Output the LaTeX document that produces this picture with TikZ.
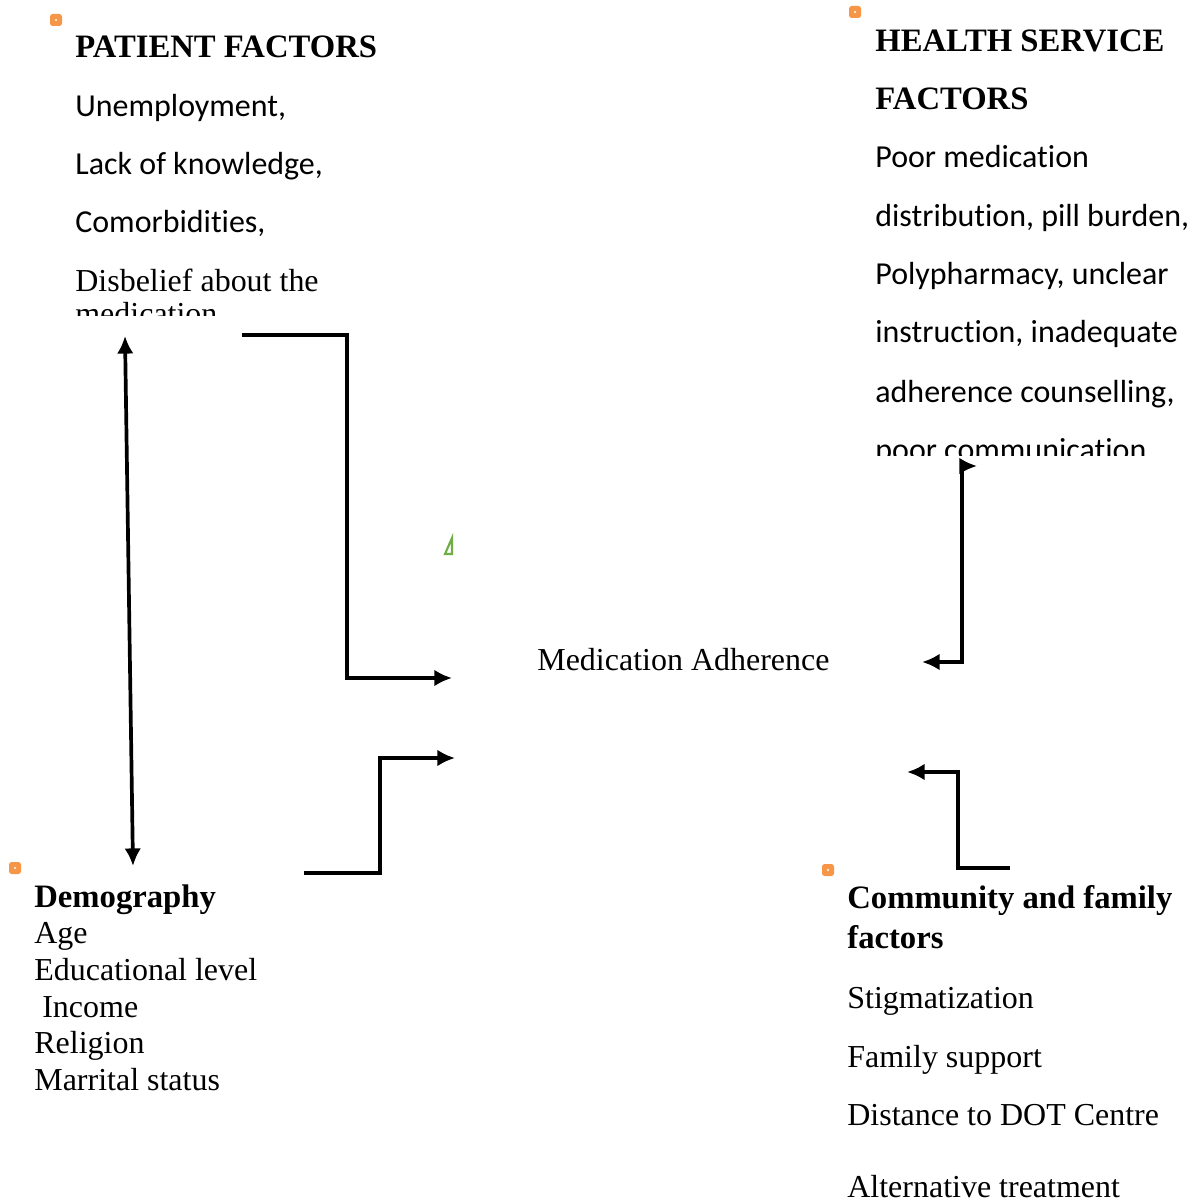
\documentclass[tikz,border=0pt]{standalone}
\usepackage{fontspec}
\setmainfont{Liberation Serif}
\newfontfamily\calibri[Ligatures=NoCommon]{Carlito}
\usepackage{tikz}
\usetikzlibrary{calc, arrows.meta}
\tikzset{>={Latex[length=10pt, width=9.5pt]}}
\definecolor{anchororange}{RGB}{247,150,70}
\definecolor{trigreen}{RGB}{112,173,71}
\tikzset{
  ln/.style={anchor=base west, inner sep=0pt, font=\fontsize{18.2}{22}\selectfont},
  hd/.style={anchor=base west, inner sep=0pt, font=\fontsize{18.6}{22}\selectfont\bfseries},
  cal/.style={anchor=base west, inner sep=0pt, font=\calibri\fontsize{18.2}{22}\selectfont},
  conn/.style={line width=2.1pt},
}

\begin{document}
\begin{tikzpicture}[x=0.02cm, y=-0.02cm]
\useasboundingbox (0,0) rectangle (1191,1202);

% text box anchors
\foreach \x/\y in {56/20, 855/12, 15/868, 828/870}{
\fill[anchororange, rounded corners=1.5pt] (\x-6,\y-6) rectangle (\x+6,\y+6);
\fill[white] (\x,\y) circle (0.7pt);
}

% patient factors
\node[hd] (pfhead) at (75,58) {PATIENT FACTORS};
\node[cal] (pf1) at (75,117) {Unemployment,};
\node[cal] (pf2) at (75,175) {Lack of knowledge,};
\node[cal] (pf3) at (75,233) {Comorbidities,};
\begin{scope}
\clip (0,0) rectangle (420,316);
\node[ln] (pf4) at (75,292) {Disbelief about the};
\node[ln] (pf5) at (75,325) {medication};
\end{scope}

% health service factors
\node[hd] (hshead) at (875,52) {HEALTH SERVICE};
\node[hd] (hshead2) at (875,110) {FACTORS};
\begin{scope}
\clip (860,0) rectangle (1191,455);
\node[cal] (hs1) at (875,168) {Poor medication};
\node[cal] (hs2) at (875,227) {distribution, pill burden,};
\node[cal] (hs3) at (875,285) {Polypharmacy, unclear};
\node[cal] (hs4) at (875,343) {instruction, inadequate};
\node[cal] (hs5) at (875,402) {adherence counselling,};
\node[cal] (hs6) at (875,460) {poor communication};
\end{scope}

% demography
\node[hd] (dmhead) at (34,907) {Demography};
\node[ln] (dm1) at (34,943) {Age};
\node[ln] (dm2) at (34,980) {Educational level};
\node[ln] (dm3) at (34,1017) {\ Income};
\node[ln] (dm4) at (34,1053) {Religion};
\node[ln] (dm5) at (34,1090) {Marrital status};

% community and family factors
\node[hd] (cfhead) at (847,908) {Community and family};
\node[hd] (cfhead2) at (847,948) {factors};
\node[ln] (cf1) at (847,1008) {Stigmatization};
\node[ln] (cf2) at (847,1067) {Family support};
\node[ln] (cf3) at (847,1125) {Distance to DOT Centre};
\node[ln] (cf4) at (847,1197) {Alternative treatment};

% outcome
\node[ln] (ma) at (537,670) {Medication Adherence};

\draw[trigreen, line width=1.2pt] (445,554) -- (452,538) -- (452,554) -- cycle;

% connector ends
\coordinate (pfout) at (242,335);
\coordinate (pfdown) at (125,336);
\coordinate (dmup) at (133,866);
\coordinate (dmout) at (304,873);
\coordinate (hsdown) at (977,466);
\coordinate (cfout) at (1010,868);
\coordinate (main1) at (452,678);
\coordinate (main2) at (455,758);
\coordinate (main3) at (922,662);
\coordinate (main4) at (907,772);

\draw[conn, <->] (pfdown) -- (dmup);
\draw[conn, ->] (pfout) -- ++(105,0) |- (main1);
\draw[conn, ->] (dmout) -- ++(76,0) |- (main2);
\draw[conn, <->] (hsdown) -- ++(-15,0) |- (main3);
\draw[conn, ->] (cfout) -- ++(-52,0) |- (main4);

\end{tikzpicture}
\end{document}
